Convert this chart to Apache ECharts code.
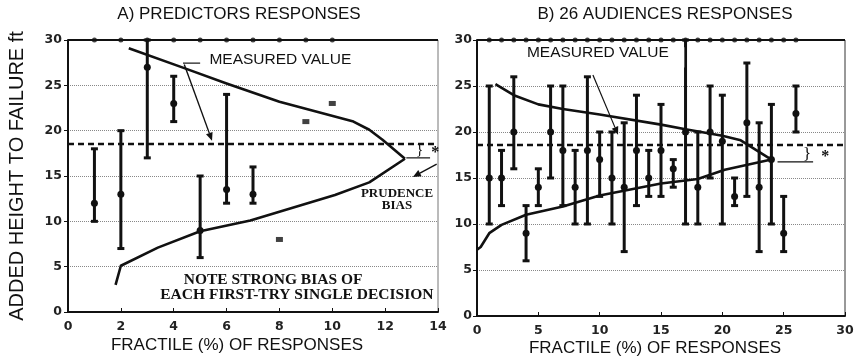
<!DOCTYPE html>
<html>
<head>
<meta charset="utf-8">
<script src="https://cdn.jsdelivr.net/npm/echarts@6/dist/echarts.min.js"></script>
<style>
  html, body { margin: 0; padding: 0; background: #fff; }
  #chart { width: 857px; height: 361px; }
</style>
</head>
<body>
<div id="chart"></div>
<script>
// Measured added height to failure (ft)
const measuredValue = 18.6;

// Panel A: predictors' responses, [fractile %, low, best estimate, high]
const predictorBars = [
  [1, 10, 12, 18],
  [2, 7, 13, 20],
  [3, 17, 27, 30],
  [4, 21, 23, 26],
  [5, 6, 9, 15],
  [6, 12, 13.5, 24],
  [7, 12, 13, 16]
];
const predictorSingles = [[8, 8], [9, 21], [10, 23]];
const predictorUpper = [[2.3, 29.1], [4.4, 26.9], [6, 25.2], [8, 23.2], [10.8, 21], [11.4, 20.1], [11.9, 19], [12.75, 16.9]];
const predictorLower = [[1.8, 3], [2, 5.1], [3.4, 7.1], [5, 8.9], [6.9, 10.1], [10.1, 12.9], [11.4, 14.3], [12.75, 16.9]];
const predictorTopDots = [1, 2, 3, 4, 5, 6, 7, 8, 9, 10];

// Panel B: 26 audiences' responses, [fractile %, low, best estimate, high]
const audienceBars = [
  [1, 10, 15, 25], [2, 12, 15, 18], [3, 16, 20, 26], [4, 6, 9, 12],
  [5, 12, 14, 16], [6, 15, 20, 25], [7, 12, 18, 25], [8, 10, 14, 18],
  [9, 10, 18, 26], [10, 13, 17, 20], [11, 10, 15, 20], [12, 7, 14, 21],
  [13, 12, 18, 24], [14, 13, 15, 18], [15, 13, 18, 23], [16, 14, 16, 17],
  [17, 10, 20, 30], [18, 10, 14, 20], [19, 15, 20, 25], [20, 10, 19, 24],
  [21, 12, 13, 15], [22, 13, 21, 27.5], [23, 7, 14, 21], [24, 10, 17, 23],
  [25, 7, 9, 13], [26, 20, 22, 25]
];
const audienceUpper = [[1.5, 25.2], [3, 24], [5, 23], [7, 22.5], [10, 21.9], [15, 20.8], [17, 20.3], [20, 19.6], [21.5, 19.1], [24, 17]];
const audienceLower = [[0, 7.2], [0.3, 7.5], [1, 9], [2, 9.9], [4, 11], [7, 11.9], [10, 13.1], [15, 14.4], [18, 14.9], [20.2, 15.9], [24, 17]];
const audienceTopDots = Array.from({ length: 26 }, (_, i) => i + 1);

// Axis ticks
const axisATicksX = { min: 0, max: 14, interval: 2 };
const axisBTicksX = { min: 0, max: 30, interval: 5 };
const heightTicks = { min: 0, max: 30, interval: 5 };

const INK = '#111';
const SANS = '"Liberation Sans", Arial, sans-serif';
const SERIF = '"Liberation Serif", "Times New Roman", serif';

const chart = echarts.init(document.getElementById('chart'));

function errorBars(data, idx) {
  return {
    type: 'custom', xAxisIndex: idx, yAxisIndex: idx, z: 5,
    data,
    renderItem(params, api) {
      const x = api.value(0);
      const lo = api.coord([x, api.value(1)]);
      const mid = api.coord([x, api.value(2)]);
      const hi = api.coord([x, api.value(3)]);
      const cap = 3.5;
      const style = { stroke: INK, lineWidth: 3 };
      return {
        type: 'group',
        children: [
          { type: 'line', shape: { x1: lo[0], y1: lo[1], x2: hi[0], y2: hi[1] }, style },
          { type: 'line', shape: { x1: lo[0] - cap, y1: lo[1], x2: lo[0] + cap, y2: lo[1] }, style },
          { type: 'line', shape: { x1: hi[0] - cap, y1: hi[1], x2: hi[0] + cap, y2: hi[1] }, style },
          { type: 'circle', shape: { cx: mid[0], cy: mid[1], r: 3.5 }, style: { fill: INK } }
        ]
      };
    }
  };
}

function curve(data, idx) {
  return {
    type: 'line', xAxisIndex: idx, yAxisIndex: idx, data,
    smooth: false,
    symbol: 'none', lineStyle: { color: INK, width: 2.6, join: 'round' }, z: 4, silent: true
  };
}

function topRow(xs, idx) {
  return {
    type: 'scatter', xAxisIndex: idx, yAxisIndex: idx,
    data: xs.map(x => [x, 30]), symbolSize: 5, itemStyle: { color: INK }, z: 6,
    markLine: {
      silent: true, symbol: 'none', label: { show: false },
      lineStyle: { color: INK, type: 'solid', width: 2 },
      data: [{ yAxis: 30 }]
    }
  };
}

function measuredLine(idx) {
  return {
    type: 'line', xAxisIndex: idx, yAxisIndex: idx, data: [],
    markLine: {
      silent: true, symbol: 'none', label: { show: false },
      lineStyle: { color: INK, type: [6, 4], width: 2.4 },
      data: [{ yAxis: measuredValue }]
    }
  };
}

function xAxisCfg(idx, ticks) {
  return {
    gridIndex: idx, type: 'value', ...ticks,
    axisLine: { show: true, onZero: false, lineStyle: { color: INK, width: 2 } },
    axisTick: { show: true, inside: true, length: 4, lineStyle: { color: INK } },
    axisLabel: { fontFamily: '"DejaVu Sans", sans-serif', fontWeight: 'bold', fontSize: 12.5, color: '#222', margin: 8 },
    splitLine: { show: false }
  };
}

function yAxisCfg(idx, withName) {
  return {
    gridIndex: idx, type: 'value', ...heightTicks,
    name: withName ? 'ADDED HEIGHT TO FAILURE ft' : '',
    nameLocation: 'middle', nameGap: 41,
    nameTextStyle: { fontFamily: SANS, fontSize: 20, color: '#111' },
    axisLine: { show: true, lineStyle: { color: INK, width: 2 } },
    axisTick: { show: true, inside: false, length: 4, lineStyle: { color: INK } },
    axisLabel: { fontFamily: '"DejaVu Sans", sans-serif', fontWeight: 'bold', fontSize: 12.5, color: '#222', margin: idx === 0 ? 6 : 5 },
    splitLine: { show: true, lineStyle: { color: '#888', type: 'dotted', width: 1 } }
  };
}

chart.setOption({
  animation: false,
  backgroundColor: '#fff',
  grid: [
    { left: 68, top: 40, width: 370, height: 272, show: true, borderColor: '#777', borderWidth: 1 },
    { left: 477, top: 40, width: 368, height: 276, show: true, borderColor: '#333', borderWidth: 1 }
  ],
  xAxis: [xAxisCfg(0, axisATicksX), xAxisCfg(1, axisBTicksX)],
  yAxis: [yAxisCfg(0, true), yAxisCfg(1, false)],
  series: [
    measuredLine(0),
    topRow(predictorTopDots, 0),
    curve(predictorUpper, 0),
    curve(predictorLower, 0),
    errorBars(predictorBars, 0),
    {
      type: 'scatter', xAxisIndex: 0, yAxisIndex: 0, data: predictorSingles,
      symbol: 'rect', symbolSize: [7, 5], itemStyle: { color: INK }, z: 5
    },
    measuredLine(1),
    topRow(audienceTopDots, 1),
    curve(audienceUpper, 1),
    curve(audienceLower, 1),
    errorBars(audienceBars, 1)
  ]
});

// Annotations placed in data units of each panel
function P(idx, x, y) { return chart.convertToPixel({ gridIndex: idx }, [x, y]); }

function text(idx, x, y, str, font, align) {
  const p = P(idx, x, y);
  return {
    type: 'text', x: p[0], y: p[1], z: 20,
    style: { text: str, font, fill: '#111', textAlign: align || 'left', textVerticalAlign: 'middle' }
  };
}
function seg(idx, a, b, w) {
  const p = P(idx, a[0], a[1]), q = P(idx, b[0], b[1]);
  return { type: 'line', z: 20, shape: { x1: p[0], y1: p[1], x2: q[0], y2: q[1] }, style: { stroke: '#111', lineWidth: w || 1.2 } };
}
function arrow(idx, a, b, w) {
  const p = P(idx, a[0], a[1]), q = P(idx, b[0], b[1]);
  const ang = Math.atan2(q[1] - p[1], q[0] - p[0]);
  const L = 8, W = 3.5;
  const bx = q[0] - L * Math.cos(ang), by = q[1] - L * Math.sin(ang);
  const nx = -Math.sin(ang) * W, ny = Math.cos(ang) * W;
  return [
    { type: 'line', z: 20, shape: { x1: p[0], y1: p[1], x2: bx, y2: by }, style: { stroke: '#111', lineWidth: w || 1.2 } },
    { type: 'polygon', z: 20, shape: { points: [[q[0], q[1]], [bx + nx, by + ny], [bx - nx, by - ny]] }, style: { fill: '#111' } }
  ];
}
function box(idx, a, b) {
  const p = P(idx, a[0], a[1]), q = P(idx, b[0], b[1]);
  return { type: 'rect', z: 15, shape: { x: p[0], y: p[1], width: q[0] - p[0], height: q[1] - p[1] }, style: { fill: '#fff' } };
}
function plain(x, y, str, font) {
  return { type: 'text', x, y, z: 20, style: { text: str, font, fill: '#111', textAlign: 'center', textVerticalAlign: 'middle' } };
}

const labelFont = '15.5px ' + SANS;
const serifBold = 'bold 15.5px ' + SERIF;
const g = [
  plain(239, 14, 'A) PREDICTORS RESPONSES', '17px ' + SANS),
  plain(665, 14, 'B) 26 AUDIENCES RESPONSES', '17px ' + SANS),
  plain(237, 345, 'FRACTILE (%) OF RESPONSES', '17px ' + SANS),
  plain(655, 348, 'FRACTILE (%) OF RESPONSES', '17px ' + SANS),

  // Panel A notes
  text(0, 5.35, 27.8, 'MEASURED VALUE', labelFont),
  seg(0, [4.35, 27.45], [5.0, 27.45]),
  ...arrow(0, [4.4, 27.3], [5.45, 18.9], 1.4),
  ...arrow(0, [13.95, 16.3], [13.05, 14.9], 1.4),
  seg(0, [12.8, 17], [13.7, 17]),
  text(0, 13.3, 17.9, '}', '15px ' + SERIF, 'center'),
  text(0, 13.9, 17.6, '*', 'bold 16px ' + SERIF, 'center'),
  text(0, 12.45, 13.1, 'PRUDENCE', 'bold 13px ' + SERIF, 'center'),
  text(0, 12.45, 11.7, 'BIAS', 'bold 13px ' + SERIF, 'center'),
  text(0, 7.76, 3.5, 'NOTE STRONG BIAS OF', serifBold, 'center'),
  text(0, 8.66, 1.85, 'EACH FIRST-TRY SINGLE DECISION', serifBold, 'center'),

  // Panel B notes
  box(1, [3.6, 29.2], [16.9, 27.0]),
  text(1, 4.07, 28.6, 'MEASURED VALUE', labelFont),
  ...arrow(1, [9.45, 26.2], [11.5, 19.7], 1.2),
  seg(1, [24.5, 16.75], [27.4, 16.75]),
  text(1, 26.9, 17.6, '}', '17px ' + SERIF, 'center'),
  text(1, 28.4, 17.3, '*', 'bold 16px ' + SERIF, 'center')
];
chart.setOption({ graphic: g });
</script>
</body>
</html>
